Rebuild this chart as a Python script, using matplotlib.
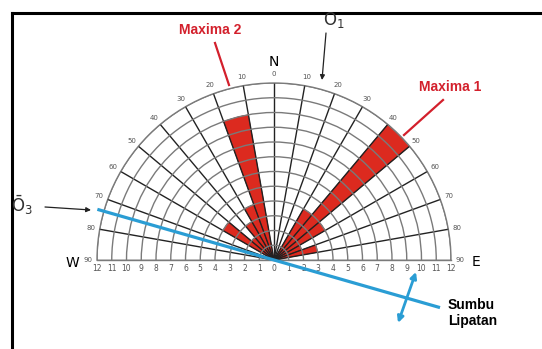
import numpy as np
import matplotlib.pyplot as plt
from matplotlib.lines import Line2D

# rose diagram data: sector start azimuth (deg, clockwise from N) and count
sector_az = [300, 310, 320, 330, 340, 30, 40, 50, 60, 70]
counts = [4, 2, 3, 4, 10, 4, 12, 4, 2, 3]
angle_labels = [90, 80, 70, 60, 50, 40, 30, 20, 10, 0, 10, 20, 30, 40, 50, 60, 70, 80, 90]
radial_labels = list(range(1, 13))

fold_trend = 106      # fold axis (Sumbu Lipatan) azimuth, deg
fold_len = [12.35, 11.6]  # extents to W and to E

W, H = 542, 349
def fx(x):
    return x / W
def fy(y):
    return 1 - y / H

red = "#dc2a1f"
lred = "#d3202c"
blue = "#2a9dd4"

fig = plt.figure(figsize=(W / 100, H / 100), dpi=100)
# polar axes is kept square; the half wedge sits in its middle
ax = fig.add_axes([fx(97), fy(348.5), 354 / W, 354 / H], projection="polar")
ax.set_theta_zero_location("N")
ax.set_theta_direction(-1)
ax.set_thetamin(-90)
ax.set_thetamax(90)
ax.set_rlim(0, 12)

az = np.array(sector_az, dtype=float)
az = np.where(az > 180, az - 360, az)
ax.bar(np.radians(az + 5), counts, width=np.radians(10), color=red,
       edgecolor="#8a1c12", linewidth=0.5, zorder=1)

# grid
ax.set_xticks(np.radians(np.arange(-90, 91, 10)))
ax.set_yticks(radial_labels)
ax.set_xticklabels([])
ax.set_yticklabels([])
ax.xaxis.grid(True, color="#222222", linewidth=1.0)
ax.yaxis.grid(True, color="#7a7a7a", linewidth=1.0)
ax.set_axisbelow(False)
for s in ax.spines.values():
    s.set_color("#7a7a7a")
    s.set_linewidth(1.0)
ax.tick_params(length=0)

# angle labels around the arc
for th, lab in zip(np.arange(-90, 91, 10), angle_labels):
    ax.text(np.radians(th), 12.6, str(lab), fontsize=5, color="#555555",
            ha="center", va="center", clip_on=False)
# distance labels along the baseline
for k in range(0, 13):
    for side in ([90] if k == 0 else [-90, 90]):
        ax.annotate(str(k), (np.radians(side), k), xytext=(0, -3),
                    textcoords="offset points", fontsize=5.5, color="#555555",
                    ha="center", va="top", annotation_clip=False)

ax.text(np.radians(0), 13.45, "N", fontsize=10, ha="center", va="center", clip_on=False)
fig.text(fx(72), fy(263), "W", fontsize=10, ha="center", va="center")
fig.text(fx(476), fy(262), "E", fontsize=10, ha="center", va="center")

# fold axis
ax.plot(np.radians([fold_trend - 180, fold_trend]), fold_len, color=blue,
        linewidth=2.3, clip_on=False, zorder=5)
ax.annotate("", xy=(np.radians(94.8), 9.66), xytext=(np.radians(116.9), 9.43),
            arrowprops=dict(arrowstyle="<|-|>", color=blue, lw=2.0,
                            mutation_scale=9, shrinkA=0, shrinkB=0),
            annotation_clip=False, zorder=5)
fig.text(fx(448), fy(313), "Sumbu\nLipatan", fontsize=10, fontweight="bold",
         family="Liberation Sans", ha="left", va="center", linespacing=1.2)

# stress labels
fig.text(fx(334), fy(20), r"O$_1$", fontsize=12, color="#333333", ha="center", va="center")
fig.text(fx(22), fy(205), r"$\mathregular{\bar{O}_3}$", fontsize=12, color="#333333",
         ha="center", va="center")
ax.annotate("", xy=(fx(322), fy(80)), xytext=(fx(326), fy(33)), xycoords="figure fraction",
            arrowprops=dict(arrowstyle="-|>", color="#222222", lw=0.9, mutation_scale=7,
                            shrinkA=0, shrinkB=0), annotation_clip=False)
ax.annotate("", xy=(fx(91), fy(210)), xytext=(fx(45), fy(207)), xycoords="figure fraction",
            arrowprops=dict(arrowstyle="-|>", color="#222222", lw=0.9, mutation_scale=7,
                            shrinkA=0, shrinkB=0), annotation_clip=False)

# maxima labels
fig.text(fx(210), fy(30), "Maxima 2", fontsize=10, fontweight="bold", color=lred,
         family="Liberation Sans", ha="center", va="center")
fig.text(fx(450), fy(87), "Maxima 1", fontsize=10, fontweight="bold", color=lred,
         family="Liberation Sans", ha="center", va="center")
fig.add_artist(Line2D([fx(215), fx(229)], [fy(43), fy(85)], color=lred, lw=1.6,
                      transform=fig.transFigure))
fig.add_artist(Line2D([fx(443), fx(404)], [fy(100), fy(135)], color=lred, lw=1.6,
                      transform=fig.transFigure))

# frame
fig.add_artist(Line2D([fx(12), 1], [fy(13), fy(13)], color="black", lw=2.2,
                      transform=fig.transFigure))
fig.add_artist(Line2D([fx(12), fx(12)], [fy(13), 0], color="black", lw=2.2,
                      transform=fig.transFigure))

fig.savefig("out.png", dpi=100)
